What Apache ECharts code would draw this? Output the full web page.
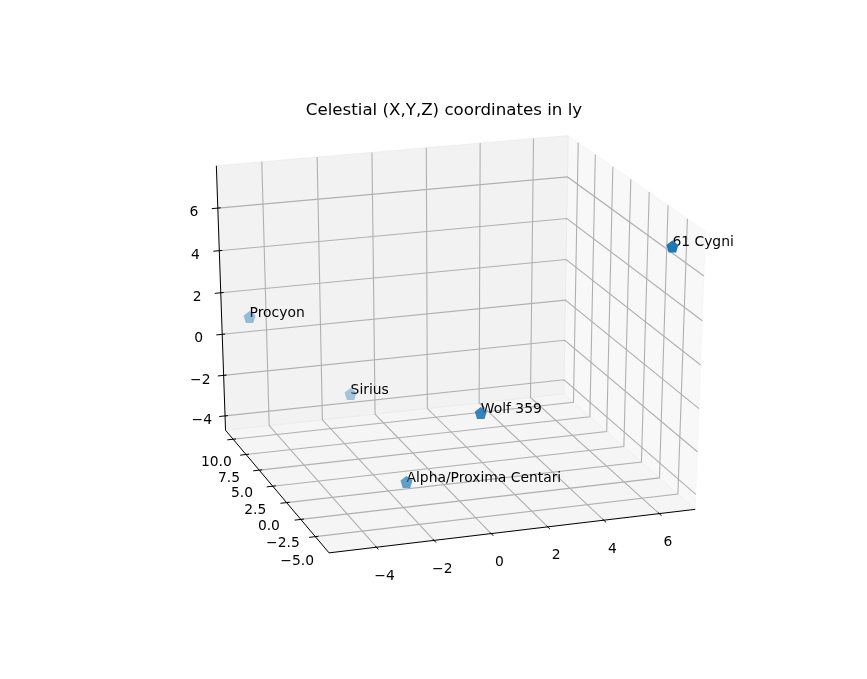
<!DOCTYPE html>
<html><head><meta charset="utf-8">
<style>html,body{margin:0;padding:0;background:#fff}#c{width:867px;height:679px}</style>
<script src="https://cdn.jsdelivr.net/npm/echarts@6/dist/echarts.min.js"></script>
</head><body><div id="c"></div>
<script>
const starNames = ['Alpha/Proxima Centari','Sirius','Procyon','Wolf 359','61 Cygni'];
const starX = [-1.65,-1.6,-4.83,0.16,6.5];
const starY = [-1.4,8.2,10.3,-5.0,-6.1];
const starZ = [-3.9,-2.53,1.05,0.14,7.1];
const xTicks = [-4,-2,0,2,4,6];
const yTicks = [-5,-2.5,0,2.5,5,7.5,10];
const zTicks = [-4,-2,0,2,4,6];
const xTickLabels = ['\u22124','\u22122','0','2','4','6'];
const yTickLabels = ['\u22125.0','\u22122.5','0.0','2.5','5.0','7.5','10.0'];
const zTickLabels = ['\u22124','\u22122','0','2','4','6'];
const xLim = [-5.37,7.05], yLim = [-6.92,11.12], zLim = [-4.46,7.71];
const ELEV = 23, AZIM = -108.5, DIST = 10;

const W=867,H=679;
const axL=.125*W, axW=.775*W, axB=.89*H, axH=.77*H;
const e=ELEV*Math.PI/180,a=AZIM*Math.PI/180;
const n=[Math.cos(e)*Math.cos(a),Math.cos(e)*Math.sin(a),Math.sin(e)];
const E=n.map(v=>.5+DIST*v);
const uL=Math.hypot(n[1],n[0]);
const u=[-n[1]/uL,n[0]/uL,0];
const v=[n[1]*u[2]-n[2]*u[1],n[2]*u[0]-n[0]*u[2],n[0]*u[1]-n[1]*u[0]];
const dot=(p,q)=>p[0]*q[0]+p[1]*q[1]+p[2]*q[2];
function proj(x,y,z){
  const p=[(x-xLim[0])/(xLim[1]-xLim[0])-E[0],(y-yLim[0])/(yLim[1]-yLim[0])-E[1],(z-zLim[0])/(zLim[1]-zLim[0])-E[2]];
  const w=-dot(n,p), px=dot(u,p)/w, py=dot(v,p)/w;
  return [axL+(px+.95/DIST)/(1.85/DIST)*axW, axB-(py+.95/DIST)/(1.85/DIST)*axH, -DIST/w];
}
const P=(x,y,z)=>proj(x,y,z).slice(0,2);
const pad=l=>{const d=(l[1]-l[0])/12;return [l[0]-d/4,l[1]+d/4];};
const [x0,x1]=pad(xLim),[y0,y1]=pad(yLim),[z0,z1]=pad(zLim);
const dx=(x1-x0)/12,dy=(y1-y0)/12,dz=(z1-z0)/12;

const flat=(...pts)=>pts.flat();
const panes=[
  {pts:flat(P(x1,y0,z0),P(x1,y1,z0),P(x1,y1,z1),P(x1,y0,z1)),c:'rgba(242,242,242,0.5)'},
  {pts:flat(P(x0,y1,z0),P(x1,y1,z0),P(x1,y1,z1),P(x0,y1,z1)),c:'rgba(230,230,230,0.5)'},
  {pts:flat(P(x0,y0,z0),P(x1,y0,z0),P(x1,y1,z0),P(x0,y1,z0)),c:'rgba(236,236,236,0.5)'}
];
const grid=[];
xTicks.forEach(t=>grid.push(flat(P(t,y0,z0),P(t,y1,z0),P(t,y1,z1))));
yTicks.forEach(t=>grid.push(flat(P(x0,t,z0),P(x1,t,z0),P(x1,t,z1))));
zTicks.forEach(t=>grid.push(flat(P(x0,y1,t),P(x1,y1,t),P(x1,y0,t))));
const axisLines=[
  flat(P(x0,y0,z0),P(x1,y0,z0)),
  flat(P(x0,y0,z0),P(x0,y1,z0)),
  flat(P(x0,y1,z0),P(x0,y1,z1))
];
xTicks.forEach(t=>axisLines.push(flat(P(t,y0-.2*dy,z0),P(t,y0+.1*dy,z0))));
yTicks.forEach(t=>axisLines.push(flat(P(x0-.2*dx,t,z0),P(x0+.1*dx,t,z0))));
zTicks.forEach(t=>axisLines.push(flat(P(x0-.2*dx,y1,t),P(x0+.1*dx,y1,t))));
const tickTexts=[];
xTicks.forEach((t,i)=>tickTexts.push({p:P(t,y0-.8*dy,z0-.9*dz),s:xTickLabels[i]}));
yTicks.forEach((t,i)=>tickTexts.push({p:P(x0-.6*dx,t,z0-1.0*dz),s:yTickLabels[i]}));
zTicks.forEach((t,i)=>tickTexts.push({p:P(x0-.8*dx,y1,t-.1*dz),s:zTickLabels[i]}));

const depth=starNames.map((_,i)=>proj(starX[i],starY[i],starZ[i])[2]);
const dMin=Math.min(...depth),dMax=Math.max(...depth);
const stars=starNames.map((nm,i)=>{
  const al=1-(depth[i]-dMin)/(dMax-dMin)*.62;
  const c=`rgba(31,119,180,${al.toFixed(3)})`;
  return {value:P(starX[i],starY[i],starZ[i]),itemStyle:{color:c,opacity:1}};
});
const FONT='DejaVu Sans';
function lineSeries(rows,stroke,lw){
  return {type:'custom',coordinateSystem:'cartesian2d',silent:true,clip:false,data:rows.map((r,i)=>[i]),
    renderItem:(p,api)=>{const r=rows[p.dataIndex],pts=[];for(let i=0;i<r.length;i+=2)pts.push(api.coord([r[i],r[i+1]]));
      return {type:'polyline',shape:{points:pts},style:{fill:'none',stroke,lineWidth:lw}};}};
}
function textSeries(items,align,base,dy){
  return {type:'custom',coordinateSystem:'cartesian2d',silent:true,clip:false,data:items.map((r,i)=>[i]),
    renderItem:(p,api)=>{const it=items[p.dataIndex],c=api.coord(it.p);
      return {type:'text',style:{x:c[0],y:c[1]+dy,text:it.s,fill:'#000',font:`13.89px "${FONT}"`,align:align,verticalAlign:base}};}};
}
const chart=echarts.init(document.getElementById('c'),null,{renderer:'canvas'});
chart.setOption({
  animation:false,backgroundColor:'#fff',
  title:{text:'Celestial (X,Y,Z) coordinates in ly',left:439,top:97,textAlign:'center',
    textStyle:{fontFamily:FONT,fontSize:16.67,fontWeight:'normal',color:'#000'}},
  grid:{left:0,right:0,top:0,bottom:0},
  xAxis:{type:'value',min:0,max:W,show:false},
  yAxis:{type:'value',min:0,max:H,inverse:true,show:false},
  series:[
    {type:'custom',coordinateSystem:'cartesian2d',silent:true,clip:false,data:panes.map((r,i)=>[i]),
     renderItem:(p,api)=>{const r=panes[p.dataIndex],pts=[];for(let i=0;i<r.pts.length;i+=2)pts.push(api.coord([r.pts[i],r.pts[i+1]]));
       return {type:'polygon',shape:{points:pts},style:{fill:r.c,stroke:r.c,lineWidth:1}};}},
    lineSeries(grid,'#b0b0b0',1.1),
    lineSeries(axisLines,'#000',1),
    textSeries(tickTexts,'center','middle',0),
    {type:'scatter',symbol:'path://M0 -1 L0.951 -0.309 L0.588 0.809 L-0.588 0.809 L-0.951 -0.309 Z',symbolSize:12,data:stars,clip:false,silent:true},
    textSeries(starNames.map((s,i)=>({p:P(starX[i],starY[i],starZ[i]),s})),'left','bottom',3)
  ]
});
</script></body></html>
